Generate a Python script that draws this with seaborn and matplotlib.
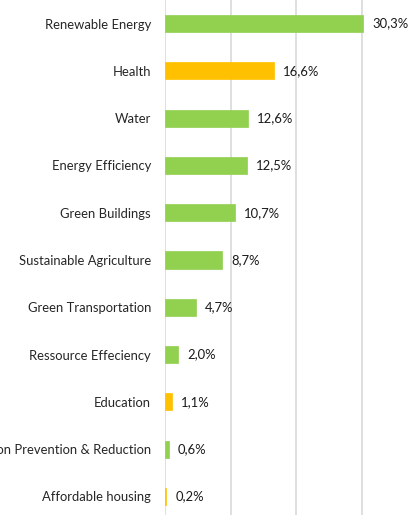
import matplotlib
matplotlib.use("Agg")
import matplotlib.pyplot as plt
import seaborn as sns
import pandas as pd

categories = ["Renewable Energy", "Health", "Water", "Energy Efficiency", "Green Buildings",
              "Sustainable Agriculture", "Green Transportation", "Ressource Effeciency",
              "Education", "Pollution Prevention & Reduction", "Affordable housing"]
values = [30.3, 16.6, 12.6, 12.5, 10.7, 8.7, 4.7, 2.0, 1.1, 0.6, 0.2]
groups = ["green", "orange", "green", "green", "green", "green", "green", "green",
          "orange", "green", "orange"]
group_colors = {"green": "#92D050", "orange": "#FFC000"}

sns.set_theme(style="white")
plt.rcParams['font.family'] = ['Lato', 'DejaVu Sans']

df = pd.DataFrame({"category": categories, "value": values, "group": groups})

fig = plt.figure(figsize=(4.08, 5.15), dpi=100)
ax = fig.add_axes([165/408, -5/515, 262/408, 520/515])
sns.barplot(data=df, x="value", y="category", hue="group", palette=group_colors,
            dodge=False, width=0.36, legend=False, ax=ax, saturation=1)
for p in ax.patches:
    p.set_edgecolor(p.get_facecolor())
    p.set_linewidth(0.5)
ax.set_xlim(0, 40)
ax.set_ylim(10.5, -0.5)
ax.set_xticks([0, 10, 20, 30, 40])
ax.xaxis.grid(True, color="#D9D9D9", linewidth=1.2)
ax.set_axisbelow(True)
for s in ax.spines.values():
    s.set_visible(False)
ax.set_xlabel("")
ax.set_ylabel("")
ax.tick_params(axis="x", bottom=False, labelbottom=False)
ax.tick_params(axis="y", left=False, length=0, pad=10, labelsize=9.4, labelcolor="#262626")
for i, v in enumerate(values):
    ax.annotate(f"{v:.1f}".replace(".", ",") + "%", (v, i), xytext=(9, 0),
                textcoords="offset pixels", va="center", ha="left",
                fontsize=9.4, color="#1a1a1a")
fig.savefig("out.png", dpi=100)
